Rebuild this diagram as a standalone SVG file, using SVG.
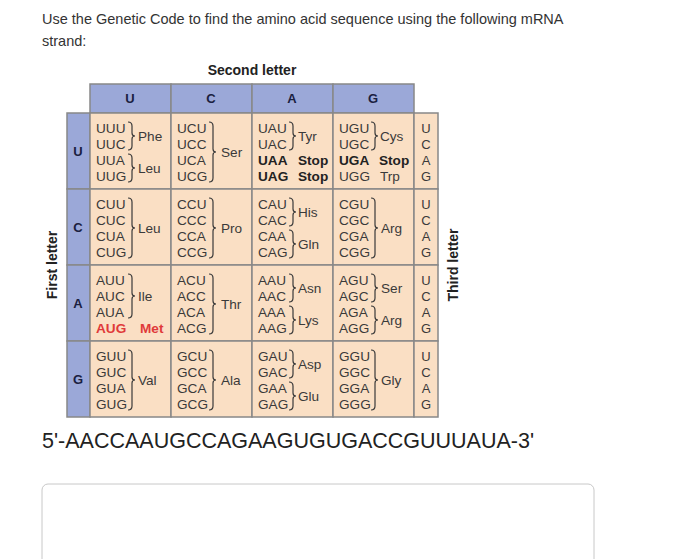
<svg xmlns="http://www.w3.org/2000/svg" width="700" height="559" viewBox="0 0 700 559">
<style>
text{font-family:"Liberation Sans",Arial,sans-serif;fill:#222}
.q{font-size:14.5px;fill:#333}
.c{font-size:13.6px;fill:#3a3a3a}
.b{font-weight:bold;fill:#222}
.h{font-size:13px;font-weight:bold;fill:#1a2040;text-anchor:middle}
.t{font-size:13px;fill:#3a3a3a;text-anchor:middle}
.br{fill:none;stroke:#3a3a3a;stroke-width:1.2}
.hd{fill:#9ba8d8;stroke:#888;stroke-width:1.5}
.cl{fill:#fadfc4;stroke:#888;stroke-width:1.5}
</style>
<rect width="700" height="559" fill="#fff"/>
<text class="q" x="42" y="24">Use the Genetic Code to find the amino acid sequence using the following mRNA</text>
<text class="q" x="42" y="46">strand:</text>
<text x="252" y="75" style="font-size:14px;font-weight:bold;text-anchor:middle">Second letter</text>
<text transform="translate(57,265) rotate(-90)" style="font-size:14px;font-weight:bold;text-anchor:middle">First letter</text>
<text transform="translate(458,265) rotate(-90)" style="font-size:14px;font-weight:bold;text-anchor:middle">Third letter</text>
<g id="grid">
<rect class="hd" x="90" y="84" width="81" height="29"/><rect class="hd" x="171" y="84" width="81" height="29"/><rect class="hd" x="252" y="84" width="81" height="29"/><rect class="hd" x="333" y="84" width="81" height="29"/>
<text class="h" x="130" y="103">U</text><text class="h" x="211" y="103">C</text><text class="h" x="292" y="103">A</text><text class="h" x="373" y="103">G</text>
<rect class="hd" x="67" y="113" width="23" height="76"/><rect class="hd" x="67" y="189" width="23" height="76"/><rect class="hd" x="67" y="265" width="23" height="76"/><rect class="hd" x="67" y="341" width="23" height="76"/>
<text class="h" x="78" y="156">U</text><text class="h" x="78" y="232">C</text><text class="h" x="78" y="308">A</text><text class="h" x="78" y="384">G</text>
<g id="cells">
<rect class="cl" x="90" y="113" width="81" height="76"/><rect class="cl" x="171" y="113" width="81" height="76"/><rect class="cl" x="252" y="113" width="81" height="76"/><rect class="cl" x="333" y="113" width="81" height="76"/><rect class="cl" x="414" y="113" width="24" height="76"/>
<rect class="cl" x="90" y="189" width="81" height="76"/><rect class="cl" x="171" y="189" width="81" height="76"/><rect class="cl" x="252" y="189" width="81" height="76"/><rect class="cl" x="333" y="189" width="81" height="76"/><rect class="cl" x="414" y="189" width="24" height="76"/>
<rect class="cl" x="90" y="265" width="81" height="76"/><rect class="cl" x="171" y="265" width="81" height="76"/><rect class="cl" x="252" y="265" width="81" height="76"/><rect class="cl" x="333" y="265" width="81" height="76"/><rect class="cl" x="414" y="265" width="24" height="76"/>
<rect class="cl" x="90" y="341" width="81" height="76"/><rect class="cl" x="171" y="341" width="81" height="76"/><rect class="cl" x="252" y="341" width="81" height="76"/><rect class="cl" x="333" y="341" width="81" height="76"/><rect class="cl" x="414" y="341" width="24" height="76"/>
</g>
</g>
<g id="third">
<text class="t" x="426" y="133">U</text><text class="t" x="426" y="149">C</text><text class="t" x="426" y="165">A</text><text class="t" x="426" y="181">G</text>
<text class="t" x="426" y="209">U</text><text class="t" x="426" y="225">C</text><text class="t" x="426" y="241">A</text><text class="t" x="426" y="257">G</text>
<text class="t" x="426" y="285">U</text><text class="t" x="426" y="301">C</text><text class="t" x="426" y="317">A</text><text class="t" x="426" y="333">G</text>
<text class="t" x="426" y="361">U</text><text class="t" x="426" y="377">C</text><text class="t" x="426" y="393">A</text><text class="t" x="426" y="409">G</text>
</g>
<g id="codons">
<text class="c" x="96" y="133">UUU</text><text class="c" x="96" y="149">UUC</text><text class="c" x="96" y="165">UUA</text><text class="c" x="96" y="181">UUG</text>
<text class="c" x="138" y="141">Phe</text><text class="c" x="138" y="173">Leu</text>
<text class="c" x="177" y="133">UCU</text><text class="c" x="177" y="149">UCC</text><text class="c" x="177" y="165">UCA</text><text class="c" x="177" y="181">UCG</text>
<text class="c" x="221" y="157">Ser</text>
<text class="c" x="258" y="133">UAU</text><text class="c" x="258" y="149">UAC</text><text class="c" x="298" y="141">Tyr</text>
<text class="c b" x="258" y="165">UAA</text><text class="c b" x="298" y="165">Stop</text><text class="c b" x="258" y="181">UAG</text><text class="c b" x="298" y="181">Stop</text>
<text class="c" x="339" y="133">UGU</text><text class="c" x="339" y="149">UGC</text><text class="c" x="380" y="141">Cys</text>
<text class="c b" x="339" y="165">UGA</text><text class="c b" x="379" y="165">Stop</text><text class="c" x="339" y="181">UGG</text><text class="c" x="380" y="181">Trp</text>
<text class="c" x="96" y="209">CUU</text><text class="c" x="96" y="225">CUC</text><text class="c" x="96" y="241">CUA</text><text class="c" x="96" y="257">CUG</text><text class="c" x="138" y="233">Leu</text>
<text class="c" x="177" y="209">CCU</text><text class="c" x="177" y="225">CCC</text><text class="c" x="177" y="241">CCA</text><text class="c" x="177" y="257">CCG</text><text class="c" x="221" y="233">Pro</text>
<text class="c" x="258" y="209">CAU</text><text class="c" x="258" y="225">CAC</text><text class="c" x="258" y="241">CAA</text><text class="c" x="258" y="257">CAG</text><text class="c" x="298" y="217">His</text><text class="c" x="298" y="249">Gln</text>
<text class="c" x="339" y="209">CGU</text><text class="c" x="339" y="225">CGC</text><text class="c" x="339" y="241">CGA</text><text class="c" x="339" y="257">CGG</text><text class="c" x="381" y="233">Arg</text>
<text class="c" x="96" y="285">AUU</text><text class="c" x="96" y="301">AUC</text><text class="c" x="96" y="317">AUA</text><text class="c" x="138" y="301">Ile</text>
<text class="c" x="96" y="333" style="fill:#e03a3a;font-weight:bold">AUG</text><text class="c" x="140" y="333" style="fill:#e03a3a;font-weight:bold">Met</text>
<text class="c" x="177" y="285">ACU</text><text class="c" x="177" y="301">ACC</text><text class="c" x="177" y="317">ACA</text><text class="c" x="177" y="333">ACG</text><text class="c" x="221" y="309">Thr</text>
<text class="c" x="258" y="285">AAU</text><text class="c" x="258" y="301">AAC</text><text class="c" x="258" y="317">AAA</text><text class="c" x="258" y="333">AAG</text><text class="c" x="298" y="293">Asn</text><text class="c" x="298" y="325">Lys</text>
<text class="c" x="339" y="285">AGU</text><text class="c" x="339" y="301">AGC</text><text class="c" x="339" y="317">AGA</text><text class="c" x="339" y="333">AGG</text><text class="c" x="381" y="293">Ser</text><text class="c" x="381" y="325">Arg</text>
<text class="c" x="96" y="361">GUU</text><text class="c" x="96" y="377">GUC</text><text class="c" x="96" y="393">GUA</text><text class="c" x="96" y="409">GUG</text><text class="c" x="138" y="385">Val</text>
<text class="c" x="177" y="361">GCU</text><text class="c" x="177" y="377">GCC</text><text class="c" x="177" y="393">GCA</text><text class="c" x="177" y="409">GCG</text><text class="c" x="221" y="385">Ala</text>
<text class="c" x="258" y="361">GAU</text><text class="c" x="258" y="377">GAC</text><text class="c" x="258" y="393">GAA</text><text class="c" x="258" y="409">GAG</text><text class="c" x="298" y="369">Asp</text><text class="c" x="298" y="401">Glu</text>
<text class="c" x="339" y="361">GGU</text><text class="c" x="339" y="377">GGC</text><text class="c" x="339" y="393">GGA</text><text class="c" x="339" y="409">GGG</text><text class="c" x="381" y="385">Gly</text>
</g>
<g id="braces">
<path class="br" d="M128,122 q4,0 4,4 v7 q0,3 3,3 q-3,0 -3,3 v7 q0,4 -4,4"/>
<path class="br" d="M128,154 q4,0 4,4 v7 q0,3 3,3 q-3,0 -3,3 v7 q0,4 -4,4"/>
<path class="br" d="M289,122 q4,0 4,4 v7 q0,3 3,3 q-3,0 -3,3 v7 q0,4 -4,4"/>
<path class="br" d="M371,122 q4,0 4,4 v7 q0,3 3,3 q-3,0 -3,3 v7 q0,4 -4,4"/>
<path class="br" d="M289,198 q4,0 4,4 v7 q0,3 3,3 q-3,0 -3,3 v7 q0,4 -4,4"/>
<path class="br" d="M289,230 q4,0 4,4 v7 q0,3 3,3 q-3,0 -3,3 v7 q0,4 -4,4"/>
<path class="br" d="M289,274 q4,0 4,4 v7 q0,3 3,3 q-3,0 -3,3 v7 q0,4 -4,4"/>
<path class="br" d="M289,306 q4,0 4,4 v7 q0,3 3,3 q-3,0 -3,3 v7 q0,4 -4,4"/>
<path class="br" d="M371,274 q4,0 4,4 v7 q0,3 3,3 q-3,0 -3,3 v7 q0,4 -4,4"/>
<path class="br" d="M371,306 q4,0 4,4 v7 q0,3 3,3 q-3,0 -3,3 v7 q0,4 -4,4"/>
<path class="br" d="M289,350 q4,0 4,4 v7 q0,3 3,3 q-3,0 -3,3 v7 q0,4 -4,4"/>
<path class="br" d="M289,382 q4,0 4,4 v7 q0,3 3,3 q-3,0 -3,3 v7 q0,4 -4,4"/>
<path class="br" d="M128,274 q4,0 4,4 v15 q0,3 3,3 q-3,0 -3,3 v15 q0,4 -4,4"/>
<path class="br" d="M209,122 q4,0 4,4 v23 q0,3 3,3 q-3,0 -3,3 v23 q0,4 -4,4"/>
<path class="br" d="M128,198 q4,0 4,4 v23 q0,3 3,3 q-3,0 -3,3 v23 q0,4 -4,4"/>
<path class="br" d="M209,198 q4,0 4,4 v23 q0,3 3,3 q-3,0 -3,3 v23 q0,4 -4,4"/>
<path class="br" d="M371,198 q4,0 4,4 v23 q0,3 3,3 q-3,0 -3,3 v23 q0,4 -4,4"/>
<path class="br" d="M209,274 q4,0 4,4 v23 q0,3 3,3 q-3,0 -3,3 v23 q0,4 -4,4"/>
<path class="br" d="M128,350 q4,0 4,4 v23 q0,3 3,3 q-3,0 -3,3 v23 q0,4 -4,4"/>
<path class="br" d="M209,350 q4,0 4,4 v23 q0,3 3,3 q-3,0 -3,3 v23 q0,4 -4,4"/>
<path class="br" d="M371,350 q4,0 4,4 v23 q0,3 3,3 q-3,0 -3,3 v23 q0,4 -4,4"/>
</g>
<text x="42" y="448" style="font-size:21.5px;fill:#222">5'-AACCAAUGCCAGAAGUGUGACCGUUUAUA-3'</text>
<rect x="42" y="484" width="552" height="90" rx="6" fill="#fff" stroke="#c8c8c8" stroke-width="1"/>
</svg>
